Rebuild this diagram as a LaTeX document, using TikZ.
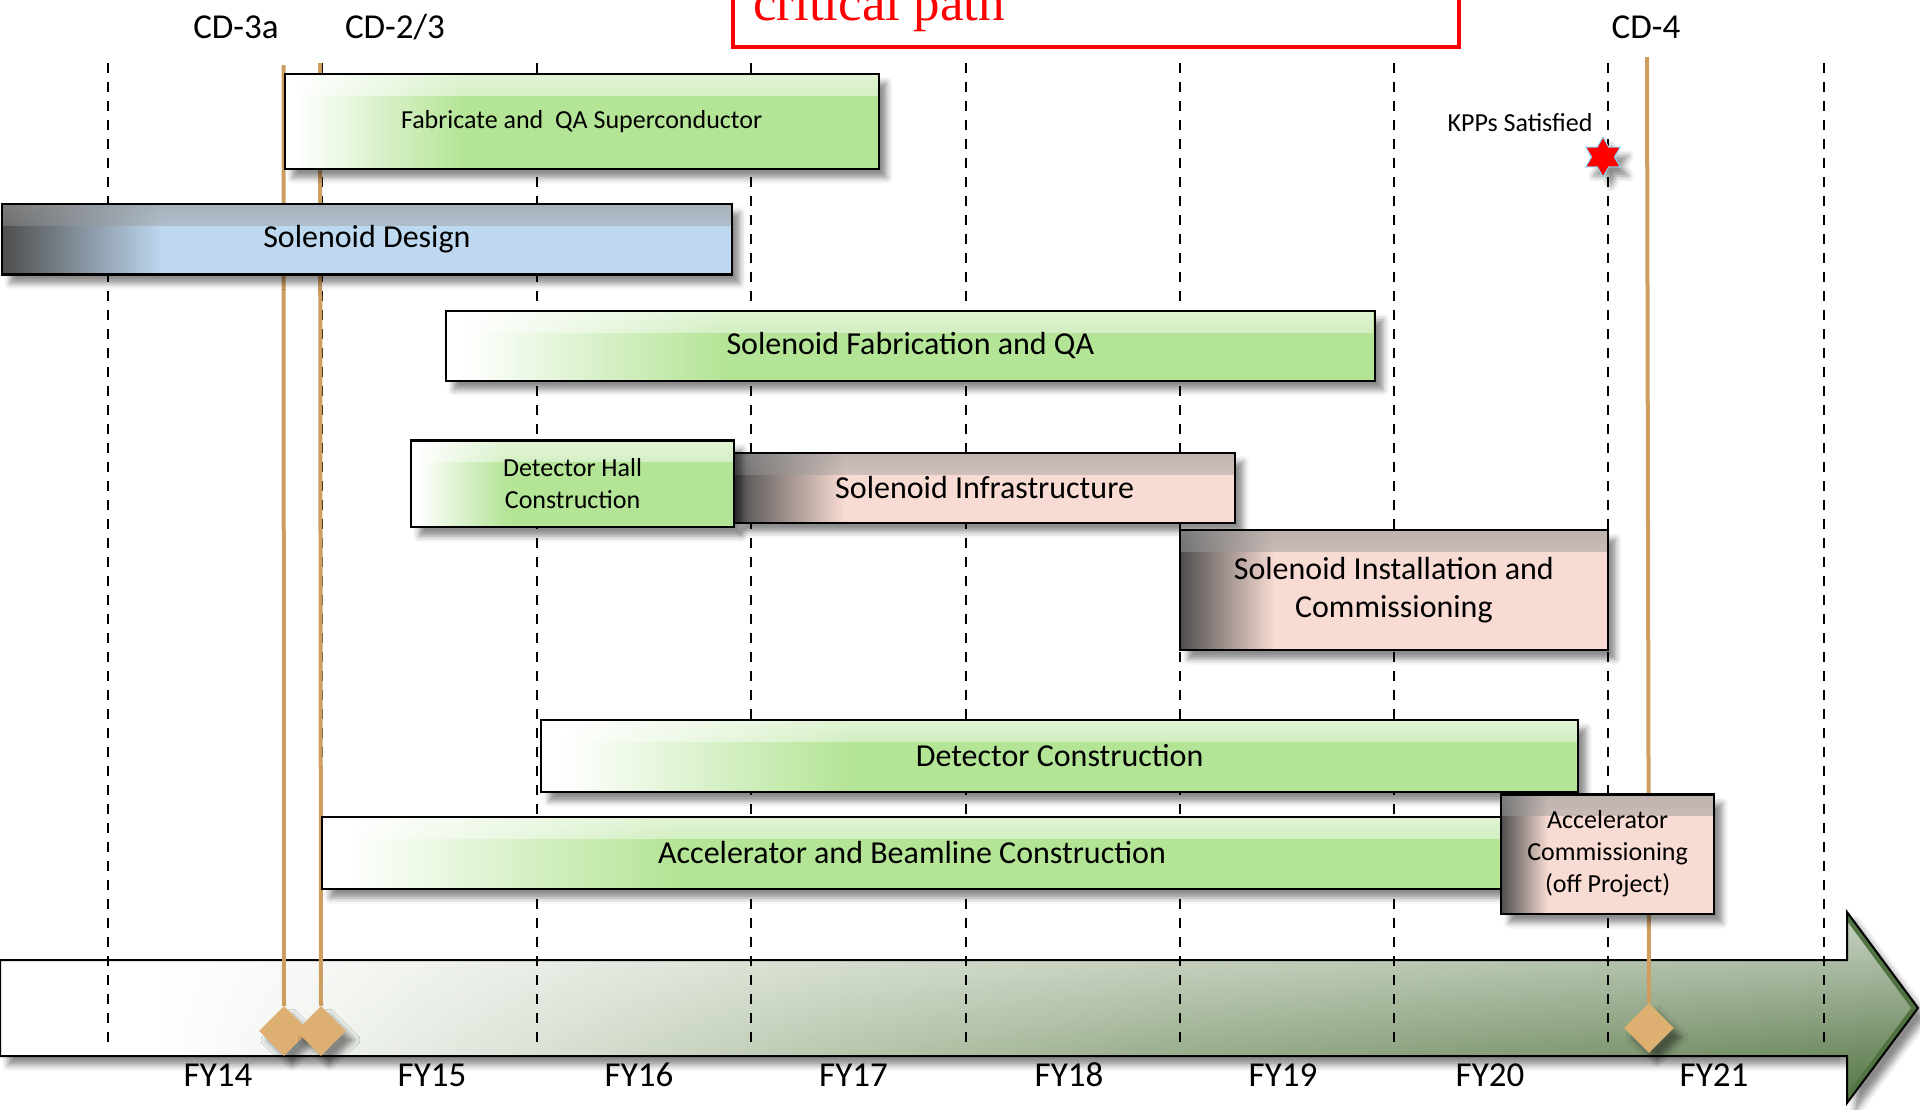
\documentclass[tikz,border=0pt]{standalone}
\usepackage{fontspec}
\setmainfont{Carlito}
\newfontfamily\titlefont{Liberation Serif}
\usetikzlibrary{shapes.geometric,shadows.blur,fadings}

\definecolor{barGreen}{RGB}{180,228,150}
\definecolor{barBlue}{RGB}{190,216,240}
\definecolor{barPink}{RGB}{248,219,210}
\definecolor{barDark}{RGB}{78,78,78}
\definecolor{msLine}{RGB}{205,158,96}
\definecolor{msFill}{RGB}{221,175,112}
\definecolor{tlOne}{RGB}{240,243,238}
\definecolor{tlTwo}{RGB}{205,215,198}
\definecolor{tlThree}{RGB}{168,186,154}
\definecolor{tlFour}{RGB}{135,158,120}
\definecolor{tlFive}{RGB}{108,137,92}
\definecolor{tlSix}{RGB}{78,112,62}

\pgfdeclarehorizontalshading{greenbar}{100bp}{color(0bp)=(white); color(26bp)=(white); color(40bp)=(barGreen); color(100bp)=(barGreen)}
\pgfdeclarehorizontalshading{bluebar}{100bp}{color(0bp)=(barDark); color(25bp)=(barDark); color(36bp)=(barBlue); color(100bp)=(barBlue)}
\pgfdeclarehorizontalshading{pinkbar}{100bp}{color(0bp)=(barDark); color(25bp)=(barDark); color(36bp)=(barPink); color(100bp)=(barPink)}
\pgfdeclarehorizontalshading{timeline}{100bp}{color(0bp)=(white); color(29bp)=(white); color(33bp)=(tlOne); color(40bp)=(tlTwo); color(47bp)=(tlThree); color(55bp)=(tlFour); color(64bp)=(tlFive); color(75bp)=(tlSix); color(100bp)=(tlSix)}

\tikzfading[name=fade down, top color=transparent!0, bottom color=transparent!100]

\tikzset{
  softshadow/.style={blur shadow={shadow xshift=8pt, shadow yshift=-9pt, shadow blur radius=6pt, shadow opacity=45}},
  topband/.style={path picture={\fill[#1, path fading=fade down, fill opacity=0.6] (path picture bounding box.north west) rectangle ([yshift=-22pt]path picture bounding box.north east);}},
  bar/.style={draw=black, line width=2.2pt, anchor=north west, inner sep=0pt, align=center, font=\fontsize{32}{38}\selectfont, softshadow},
  greenbox/.style={bar, shade, shading=greenbar, topband=white},
  bluebox/.style={bar, shade, shading=bluebar, topband=black!40},
  pinkbox/.style={bar, shade, shading=pinkbar, topband=black!40},
  smalltext/.style={font=\fontsize{26}{32}\selectfont},
  bigtext/.style={font=\fontsize{35}{40}\selectfont},
  gridline/.style={black, line width=2.5pt, dash pattern=on 10pt off 9pt},
  msline/.style={msLine, line width=4pt},
  milestone/.style={diamond, fill=msFill, minimum width=50, minimum height=50, inner sep=0pt, softshadow},
}

\begin{document}
\begin{tikzpicture}[x=1pt, y=-1pt]
\path[use as bounding box, clip] (0,0) rectangle (1920,1109);

%time arrow
\shade[shading=timeline, softshadow,
  postaction={fill=white, path fading=fade down, fill opacity=0.7},
  postaction={draw=black, line width=2pt}]
  (0,960) -- (1847,960) -- (1847,912) -- (1918,1008) -- (1847,1103) -- (1847,1056) -- (0,1056) -- cycle;

%year grid
\foreach \x in {108,322,537,751,966,1180,1394,1608,1824}
  \draw[gridline] (\x,63) -- (\x,1046);

%milestones
\coordinate (cdAtop) at (283.5,65);
\coordinate (cdBtop) at (320,63);
\coordinate (cdCtop) at (1647,57);
\node[milestone] (cdA) at (284,1031) {};
\node[milestone] (cdB) at (321,1031) {};
\node[milestone] (cdC) at (1649,1028) {};
\draw[msline] (cdAtop) -- (cdA.north);
\draw[msline] (cdBtop) -- (cdB.north);
\draw[msline] (cdCtop) -- (cdC.north);

%bars
\node[greenbox, smalltext, minimum width=594, minimum height=95] (fabqa) at (283.5,72.7) {Fabricate and\ \ QA Superconductor};
\node[bluebox, minimum width=729.6, minimum height=70.6] (soldesign) at (1,202.7) {Solenoid Design};
\node[greenbox, minimum width=929.5, minimum height=69.8] (solfab) at (444.5,309.8) {Solenoid Fabrication and QA};
\node[pinkbox, minimum width=501, minimum height=70] (solinfra) at (733,451.7) {Solenoid Infrastructure};
\node[greenbox, smalltext, minimum width=323, minimum height=86.7] (dethall) at (410,439.3) {Detector Hall\\Construction};
\node[pinkbox, minimum width=427.5, minimum height=120] (solinst) at (1179,529) {Solenoid Installation and\\Commissioning};
\node[greenbox, minimum width=1037, minimum height=72.5] (detcon) at (540,718.5) {Detector Construction};
\node[greenbox, minimum width=1180.2, minimum height=72.3] (accbeam) at (320.8,815.5) {Accelerator and Beamline Construction};
\node[pinkbox, smalltext, minimum width=213, minimum height=119.4] (acccomm) at (1500,793.3) {Accelerator\\Commissioning\\(off Project)};

%kpp
\node[star, star points=6, star point ratio=1.75, fill=red, draw=cyan!45, line width=1pt, minimum size=40, inner sep=0pt, softshadow] (kpp) at (1603,157) {};
\node[smalltext] (kpplbl) at (1520,123) {KPPs Satisfied};

%labels
\node[bigtext] (cdAlbl) at (236,27) {CD-3a};
\node[bigtext] (cdBlbl) at (395,27) {CD-2/3};
\node[bigtext] (cdClbl) at (1646,27) {CD-4};
\foreach \x/\fy in {218/14,432/15,639/16,853.5/17,1069/18,1283/19,1490/20,1714/21}
  \node[bigtext] (fy\fy) at (\x,1075) {FY\fy};

%title
\draw[red, line width=4pt] (733,-20) rectangle (1459,46.5);
\node[anchor=base west, inner sep=0pt, text=red, font=\titlefont\fontsize{53}{60}\selectfont] (title) at (753,20.7) {critical path};
\end{tikzpicture}
\end{document}
